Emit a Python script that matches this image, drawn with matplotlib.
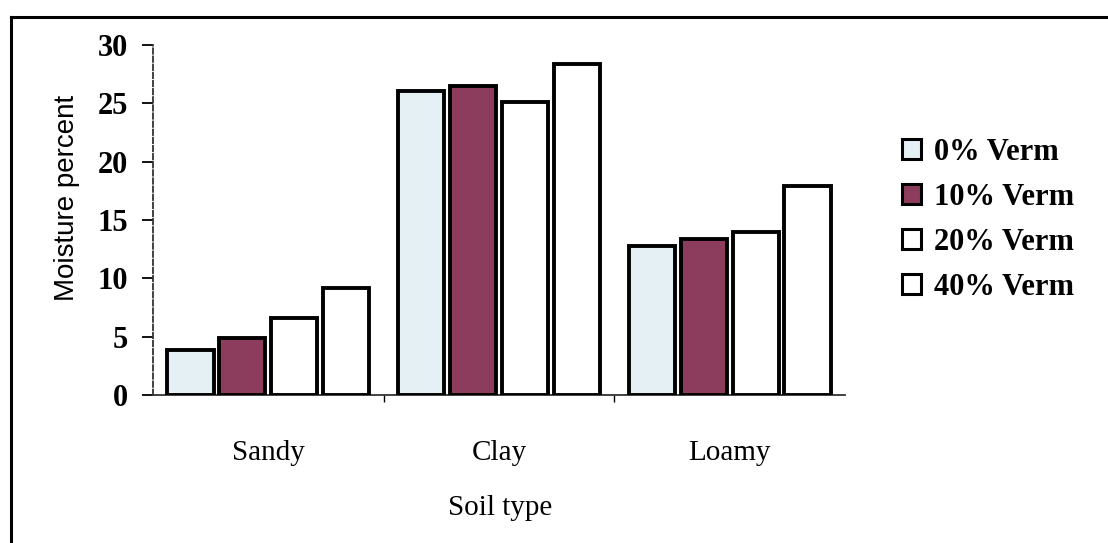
import matplotlib
matplotlib.use("Agg")
import matplotlib.pyplot as plt
from matplotlib.patches import Patch
from matplotlib.lines import Line2D
import numpy as np

categories = ["Sandy", "Clay", "Loamy"]
series_names = ["0% Verm", "10% Verm", "20% Verm", "40% Verm"]
verm_0 = [3.9, 26.1, 12.8]
verm_10 = [4.9, 26.5, 13.4]
verm_20 = [6.6, 25.1, 14.0]
verm_40 = [9.2, 28.4, 17.9]
y_ticks = [0, 5, 10, 15, 20, 25, 30]

series = [verm_0, verm_10, verm_20, verm_40]
colors = ["#e4f0f3", "#8c3c5c", "#ffffff", "#ffffff"]

serif = ["Liberation Serif", "DejaVu Serif"]
sans = ["Liberation Sans", "DejaVu Sans"]

W, H = 1108, 543
fig = plt.figure(figsize=(W / 100, H / 100), dpi=100)
fig.patch.set_facecolor("white")

# outer frame (left and top lines)
fig.add_artist(Line2D([11 / W, 11 / W], [0, 1 - 17 / H], transform=fig.transFigure,
                      color="black", lw=2.2))
fig.add_artist(Line2D([11 / W, 1], [1 - 17 / H, 1 - 17 / H], transform=fig.transFigure,
                      color="black", lw=2.2))

ax_l, ax_r = 153 / W, 845 / W
ax_b, ax_t = 1 - 395 / H, 1 - 45 / H
ax = fig.add_axes([ax_l, ax_b, ax_r - ax_l, ax_t - ax_b])

x = np.arange(len(categories))
width = 0.2
step = 0.225
for i, (vals, col, name) in enumerate(zip(series, colors, series_names)):
    ax.bar(x + (i - 1.5) * step, vals, width=width, color=col, edgecolor="black",
           linewidth=2.8, label=name, zorder=3)

ax.set_xlim(-0.5, 2.5)
ax.set_ylim(0, 30)
ax.set_yticks(y_ticks)
ax.set_yticklabels([str(t) for t in y_ticks], fontfamily=serif, fontweight="bold", fontsize=22)
ax.tick_params(axis="y", direction="out", length=8, width=1.3, pad=10, colors="black")

ax.set_xticks([0.5, 1.5])
ax.set_xticklabels([])
ax.tick_params(axis="x", direction="out", length=5, width=1.0)
for i, c in enumerate(categories):
    ax.text(x[i], 1 - (453 - 45) / 350, c, transform=ax.get_xaxis_transform(),
            ha="center", va="center", fontfamily=serif, fontsize=21)

for s in ["top", "right"]:
    ax.spines[s].set_visible(False)
ax.spines["left"].set_linestyle((0, (3, 1.5)))
ax.spines["left"].set_linewidth(1.3)
ax.spines["left"].set_color("#333333")
ax.spines["bottom"].set_linestyle((0, (6, 1)))
ax.spines["bottom"].set_linewidth(1.3)
ax.spines["bottom"].set_color("#333333")

fig.text(500 / W, 1 - 508 / H, "Soil type", ha="center", va="center",
         fontfamily=serif, fontsize=21)
fig.text(67 / W, 1 - 198 / H, "Moisture percent", ha="center", va="center",
         rotation=90, fontfamily=sans, fontsize=20)

handles = [Patch(facecolor=c, edgecolor="black", linewidth=2.2) for c in colors]
leg = fig.legend(handles, series_names, loc="upper left",
                 bbox_to_anchor=(902 / W, 1 - 138 / H),
                 frameon=False, handlelength=0.62, handleheight=0.62, handletextpad=0.42,
                 labelspacing=0.52, borderaxespad=0, borderpad=0,
                 prop={"family": serif, "weight": "bold", "size": 22})

fig.savefig("out.png", dpi=100, facecolor="white")
